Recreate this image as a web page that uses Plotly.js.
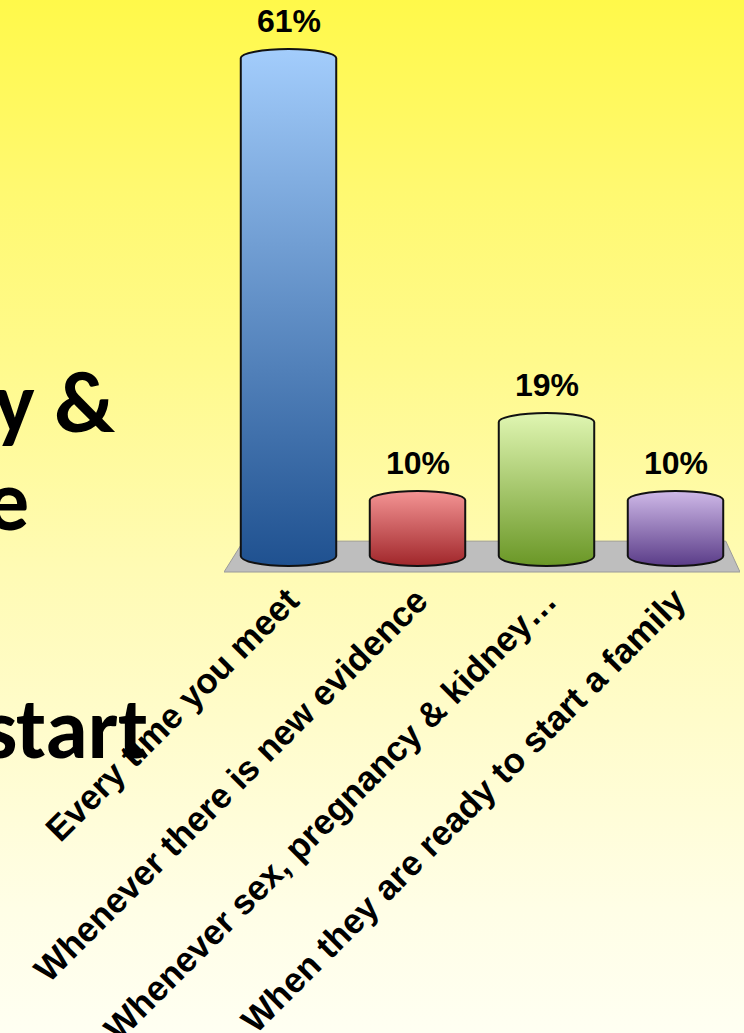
<!DOCTYPE html>
<html>
<head>
<meta charset="utf-8">
<script src="https://cdn.plot.ly/plotly-3.0.1.min.js"></script>
<style>
html,body{margin:0;padding:0;}
body{width:744px;height:1033px;overflow:hidden;
background:linear-gradient(to bottom,#FFF94A 0%,#FFF970 18%,#FFFA8C 35%,#FFFBB4 55%,#FFFCCB 70%,#FFFEE6 88%,#FFFFF2 100%);}
#chart{width:744px;height:1033px;}
</style>
</head>
<body>
<div id="chart"></div>
<script>
// ---- data ----
const categories = [
  "Every time you meet",
  "Whenever there is new evidence",
  "Whenever sex, pregnancy & kidney…",
  "When they are ready to start a family"
];
const percentages = [61, 10, 19, 10];
const valueLabels = ["61%", "10%", "19%", "10%"];
const barTopColors = ["#A3CDFC", "#F49494", "#E0F6B2", "#CFB9E8"];
const barBottomColors = ["#1F5190", "#A0262A", "#6A9726", "#5A3C88"];
// background slide text fragments
const slideTexts = ["y &", "e", "start"];

// ---- layout constants ----
const W = 744, H = 1033;
const M = {l: 224, r: 4, t: 40, b: 461};
const PW = W - M.l - M.r, PH = H - M.t - M.b;
const px2paperX = px => (px - M.l) / PW;
const py2paperY = py => (H - M.b - py) / PH;

const slidePos = [
  {x: 117, y: 402},
  {x: 31, y: 500},
  {x: 150, y: 728}
];

const trace = {
  type: "bar",
  x: categories,
  y: percentages,
  marker: {color: barTopColors, line: {color: "#111111", width: 2}},
  hoverinfo: "none",
  cliponaxis: false
};

const annotations = categories.map((c, i) => ({
  x: c, y: percentages[i], xref: "x", yref: "y",
  text: valueLabels[i], showarrow: false,
  yanchor: "bottom", yshift: 8,
  font: {family: "Liberation Sans, Arial, sans-serif", size: 32, weight: 700, color: "#000"}
}));

slideTexts.forEach((t, i) => {
  annotations.push({
    x: px2paperX(slidePos[i].x), y: py2paperY(slidePos[i].y),
    xref: "paper", yref: "paper", text: t, showarrow: false,
    xanchor: "right", yanchor: "middle",
    font: {family: "Carlito, Lato, sans-serif", size: 86, weight: 700, color: "#000"}
  });
});

const layout = {
  width: W, height: H,
  margin: M,
  paper_bgcolor: "rgba(0,0,0,0)",
  plot_bgcolor: "rgba(0,0,0,0)",
  showlegend: false,
  bargap: 0.26,
  xaxis: {
    type: "category",
    range: [-0.5, 3.5],
    tickangle: -45,
    showgrid: false, zeroline: false, showline: false, ticks: "",
    tickfont: {family: "Liberation Sans, Arial, sans-serif", size: 35, weight: 700, color: "#000"},
    automargin: false
  },
  yaxis: {
    range: [0.66, 62.04],
    visible: false, showgrid: false, zeroline: false
  },
  shapes: [{
    type: "path", xref: "x", yref: "paper", layer: "below",
    path: "M -0.5,0 L -0.35,0.058 L 3.39,0.058 L 3.5,0 Z",
    fillcolor: "#BEBEBE", line: {color: "#9A9A9A", width: 1}
  }],
  annotations: annotations
};

Plotly.newPlot("chart", [trace], layout, {staticPlot: true, displayModeBar: false}).then(gd => {
  const svg = gd.querySelector(".main-svg");
  let defs = svg.querySelector("defs");
  const NS = "http://www.w3.org/2000/svg";
  barTopColors.forEach((c, i) => {
    const g = document.createElementNS(NS, "linearGradient");
    g.setAttribute("id", "barGrad" + i);
    g.setAttribute("x1", "0"); g.setAttribute("y1", "0");
    g.setAttribute("x2", "0"); g.setAttribute("y2", "1");
    const s1 = document.createElementNS(NS, "stop");
    s1.setAttribute("offset", "0"); s1.setAttribute("stop-color", c);
    const s2 = document.createElementNS(NS, "stop");
    s2.setAttribute("offset", "1"); s2.setAttribute("stop-color", barBottomColors[i]);
    g.appendChild(s1); g.appendChild(s2);
    defs.appendChild(g);
  });
  const plotH = gd._fullLayout._size.h;
  const paths = gd.querySelectorAll(".barlayer .point path");
  paths.forEach((p, i) => {
    const nums = (p.getAttribute("d").match(/-?\d+(\.\d+)?/g) || []).map(Number);
    // M x0,y0 V y1 H x1 V y0 Z
    const x0 = nums[0], y0 = nums[1], y1 = nums[2], x1 = nums[3];
    const yTop = Math.min(y0, y1);
    const rx = (x1 - x0) / 2;
    const ryT = 9, ryB = 10;
    const yb = plotH - 16;
    const yt = yTop + ryT;
    const d = `M${x0},${yt}L${x0},${yb}A${rx},${ryB} 0 0 0 ${x1},${yb}L${x1},${yt}A${rx},${ryT} 0 0 0 ${x0},${yt}Z`;
    p.setAttribute("d", d);
    p.style.fill = `url(#barGrad${i})`;
    p.style.fillOpacity = 1;
    p.style.stroke = "#111111";
    p.style.strokeWidth = "2px";
  });
});
</script>
</body>
</html>
